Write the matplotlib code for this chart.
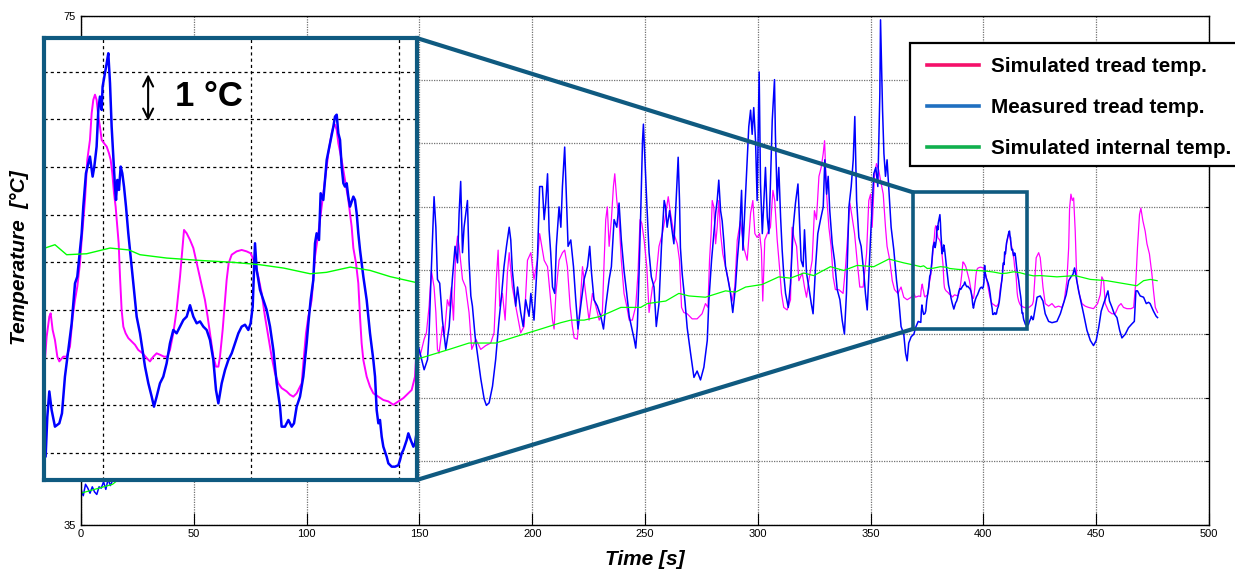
import matplotlib.pyplot as plt
from matplotlib.patches import Rectangle, ConnectionPatch
from matplotlib.lines import Line2D

plt.rcParams['font.family'] = ['Liberation Sans', 'DejaVu Sans']

# measured tread temperature (blue)
t_meas = [0, 1, 2, 3, 4, 5, 6, 7, 8, 9, 10, 11, 12, 13, 14,
          20, 30, 40, 50, 60, 70, 80, 90, 100, 110, 120, 130, 140, 146,
          148.4, 149.9, 152.1, 153.6, 154.3, 155.0, 155.8, 156.5, 157.3, 158.0,
          159.0, 160.2, 161.7, 163.2, 164.6, 165.8, 166.9, 167.6, 168.3, 169.1,
          169.8, 171.3, 172.0, 172.8, 173.5, 174.7, 175.7, 177.2, 178.7, 179.7,
          180.9, 182.4, 183.8, 185.3, 186.5, 187.5, 188.6, 189.8, 190.5, 191.2,
          192.7, 193.5, 194.9, 196.0, 197.1, 198.6, 199.4, 200.8, 202.3, 203.3,
          204.5, 205.3, 206.0, 206.8, 207.5, 208.2, 209.0, 210.0, 210.7, 211.9,
          212.7, 213.4, 214.4, 215.3, 215.9, 217.1, 218.3, 219.3, 220.3, 221.5,
          223.0, 224.5, 225.5, 226.3, 227.4, 228.9, 230.4, 231.6, 232.6, 234.1,
          235.1, 236.3, 237.5, 238.5, 239.5, 240.7, 241.9, 243.0, 244.0, 245.2,
          245.9, 246.6, 247.4, 248.1, 248.9, 249.3, 250.0, 250.8, 251.8, 252.8,
          254.0, 255.0, 256.2, 257.3, 258.5, 259.1, 259.8, 260.9, 261.8, 262.8,
          263.8, 264.7, 265.3, 265.7, 266.5, 267.7, 268.7, 270.2, 271.7, 273.1,
          274.6, 276.1, 277.6, 278.3, 279.5, 280.5, 281.3, 282.0, 282.7, 283.5,
          284.2, 284.9, 285.7, 286.9, 287.9, 288.9, 290.1, 290.9, 291.9, 292.8,
          293.4, 294.3, 295.3, 296.0, 296.8, 297.5, 298.2, 299.0, 299.7, 300.6,
          301.2, 302.0, 302.7, 303.4, 304.2, 304.9, 305.6, 306.4, 307.4, 307.8,
          308.6, 309.3, 310.1, 310.8, 311.5, 312.3, 313.5, 314.5, 315.7, 316.7,
          317.8, 318.6, 319.2, 320.1, 320.7, 321.6, 322.6, 323.7, 324.5, 325.6,
          326.6, 327.8, 329.0, 329.7, 330.5, 331.2, 331.9, 333.0, 334.0, 335.2,
          336.4, 337.4, 338.4, 339.3, 340.4, 341.4, 342.3, 343.0, 343.8, 344.8,
          345.8, 347.0, 347.7, 348.5, 349.4, 350.2, 351.4, 352.3, 353.2, 354.1,
          354.4, 355.3, 355.9, 356.6, 357.3, 358.2, 359.1, 360.3, 361.5, 362.5,
          363.5, 364.7, 365.5, 366.2, 366.9, 368.0, 369.2, 369.9, 371.1,
          372.25, 372.48, 372.75, 373.06, 373.51, 374.10, 374.46, 374.86, 375.32, 375.77,
          376.22, 376.53, 376.89, 377.12, 377.34, 377.70, 378.02, 378.24, 378.60, 378.83,
          379.14, 379.37, 379.59, 379.82, 379.95, 380.27, 380.50, 380.72, 380.95, 381.17,
          381.40, 381.62, 381.76, 381.94, 382.16, 382.39, 382.61, 382.84, 383.11, 383.42,
          383.65, 384.10, 384.55, 385.00, 385.68, 386.13, 386.58, 386.89, 387.25, 387.70,
          388.15, 388.60, 389.05, 389.50, 389.95, 390.41, 390.86, 391.31, 391.76, 392.21,
          392.66, 393.11, 393.56, 394.01, 394.46, 394.91, 395.27, 395.59, 396.04, 396.49,
          396.94, 397.39, 397.84, 398.29, 398.74, 399.19, 399.64, 399.95, 400.23, 400.54,
          400.77, 401.22, 401.67, 402.12, 402.57, 403.02, 403.47, 403.92, 404.14, 404.59,
          405.05, 405.50, 405.81, 406.17, 406.62, 407.07, 407.52, 407.75, 408.06, 408.42,
          408.65, 408.87, 409.19, 409.41, 409.77, 410.23, 410.68, 411.13, 411.35, 411.58,
          411.80, 412.03, 412.25, 412.48, 412.70, 412.93, 413.15, 413.38, 413.83, 414.05,
          414.28, 414.50, 414.73, 415.18, 415.63, 416.08, 416.53, 416.76, 416.98, 417.21,
          417.43, 417.66, 417.88, 418.33, 418.56, 419.01, 419.46, 419.91, 420.14, 420.36,
          420.59, 421.04, 421.26, 421.58, 421.94, 422.16,
          423.8, 425.2, 426.4, 427.4, 428.9, 430.4, 432.6, 434.1,
          435.5, 436.7, 437.8, 438.8, 439.7, 440.4, 441.4, 442.2, 443.2, 444.4,
          445.9, 447.4, 448.8, 450.0, 451.1, 452.2, 453.3, 454.3, 455.2, 455.9,
          457.0, 458.0, 459.2, 460.4, 461.4, 462.9, 464.3, 465.8, 466.9, 467.6,
          468.3, 469.5, 471.0, 472.2, 473.2, 473.9, 475.4, 476.6, 477.2]
T_meas = [37.8, 37.3, 38.2, 37.9, 37.5, 38.0, 37.6, 37.4, 38.0, 37.9, 38.4, 37.8, 38.6, 38.1, 38.5,
          41.0, 46.0, 44.0, 48.0, 45.0, 50.0, 47.0, 52.0, 48.0, 53.0, 49.0, 52.0, 50.0, 51.0,
          49.6, 48.8, 47.2, 48.0, 50.1, 53.7, 57.4, 60.8, 58.4, 54.3,
          54.0, 51.1, 48.8, 50.6, 54.3, 56.9, 55.6, 59.5, 62.0, 56.4,
          58.4, 60.5, 55.8, 53.0, 52.2, 49.8, 48.5, 46.5, 44.9, 44.4,
          44.6, 45.9, 48.0, 51.1, 53.2, 55.3, 56.9, 58.4, 57.4, 55.0,
          52.2, 53.7, 51.7, 50.6, 52.7, 51.4, 53.2, 51.1, 55.8, 61.6,
          61.6, 59.0, 60.3, 62.6, 58.2, 56.4, 53.7, 53.2, 56.9, 60.0,
          58.4, 61.6, 64.7, 60.0, 56.9, 57.4, 55.3, 52.7, 50.4, 52.2,
          54.3, 55.3, 56.9, 54.8, 52.7, 52.2, 51.4, 50.4, 52.2, 54.3,
          55.3, 59.0, 58.4, 60.3, 57.4, 55.0, 53.2, 51.4, 50.6, 49.6,
          48.9, 50.6, 55.0, 59.5, 65.2, 66.5, 63.6, 60.3, 56.4, 54.5,
          53.7, 50.6, 52.4, 56.9, 60.5, 60.0, 58.4, 59.7, 58.4, 57.1,
          60.5, 63.9, 60.5, 56.8, 54.7, 52.6, 50.5, 48.5, 46.6, 47.1,
          46.4, 47.4, 49.5, 52.6, 55.8, 57.9, 59.5, 60.5, 62.1, 59.7,
          58.9, 57.4, 55.3, 54.2, 53.2, 51.7, 53.7, 55.8, 57.9, 61.3,
          56.6, 60.0, 63.6, 66.3, 67.6, 65.7, 67.8, 65.2, 60.5, 70.6,
          61.8, 57.9, 60.5, 63.1, 59.2, 57.9, 61.8, 66.8, 70.0, 65.7,
          60.5, 63.1, 59.2, 56.6, 54.7, 53.2, 52.1, 54.0, 58.4, 60.3,
          61.8, 58.4, 55.8, 55.3, 58.2, 54.8, 53.7, 52.4, 51.6, 55.3,
          57.9, 59.0, 60.0, 63.7, 61.0, 62.4, 59.7, 57.1, 55.8, 53.5,
          52.7, 51.1, 50.0, 53.2, 60.0, 61.6, 63.7, 67.1, 60.5, 57.6,
          56.9, 54.8, 53.2, 51.9, 55.3, 58.4, 62.6, 63.1, 61.6, 68.9,
          74.7, 67.6, 64.2, 62.4, 63.7, 61.0, 58.4, 56.6, 54.2, 52.7,
          50.6, 50.0, 48.5, 47.9, 49.3, 49.8, 50.0, 50.5, 51.0,
          50.92, 51.76, 52.29, 51.90, 51.55, 51.62, 51.83, 52.60, 53.16, 53.72,
          54.56, 54.70, 55.26, 55.61, 56.17, 56.87, 57.08, 57.22, 56.80, 57.01,
          57.43, 58.20, 58.48, 58.20, 58.69, 58.97, 59.18, 59.39, 58.76, 57.85,
          57.22, 56.59, 56.31, 56.73, 56.52, 57.01, 56.87, 56.59, 56.17, 55.61,
          55.26, 54.56, 53.86, 53.51, 52.81, 52.46, 52.18, 51.97, 52.18, 52.46,
          52.60, 52.88, 53.30, 53.58, 53.51, 53.65, 53.79, 53.86, 54.10, 53.86,
          53.72, 53.76, 53.65, 53.58, 53.37, 52.95, 52.32, 52.04, 52.46, 52.74,
          52.95, 53.09, 53.30, 53.51, 53.65, 53.69, 53.58, 53.72, 54.07, 55.40,
          54.84, 54.42, 54.21, 54.00, 53.65, 53.16, 52.46, 51.97, 51.55, 51.55,
          51.69, 51.55, 51.62, 51.97, 52.18, 52.60, 53.30, 53.72, 54.21, 54.63,
          55.40, 55.61, 55.47, 56.45, 56.31, 57.15, 57.50, 57.85, 58.06, 58.10,
          57.71, 57.57, 57.01, 56.66, 56.59, 56.66, 56.38, 56.17, 56.38, 56.31,
          56.03, 55.61, 55.26, 54.70, 54.21, 53.51, 52.95, 52.60, 51.90, 51.62,
          51.69, 51.34, 51.13, 50.92, 50.78, 50.71, 50.71, 50.74, 50.85, 50.99,
          51.06, 51.27, 51.41, 51.27, 51.13, 51.20,
          52.9, 53.0, 52.6, 51.6, 51.0, 50.9, 51.0, 51.6,
          52.4, 53.1, 54.2, 54.5, 54.7, 55.2, 54.2, 53.4, 52.6, 51.6,
          50.3, 49.5, 49.1, 49.5, 50.5, 51.8, 52.4, 52.9, 53.4, 52.6,
          52.1, 51.6, 51.3, 50.3, 49.7, 50.0, 50.5, 50.8, 51.0, 53.4,
          53.4, 53.0, 52.9, 52.4, 52.5, 52.4, 51.8, 51.4, 51.3]

# simulated tread temperature (magenta)
t_tread = [0, 20, 40, 60, 80, 100, 120, 140,
           148.4, 150.6, 152.1, 153.1, 154.3, 155.3, 156.5, 157.3, 158.0, 158.7,
           160.2, 161.0, 162.4, 163.2, 164.2, 165.1, 166.1, 166.9, 167.6, 169.1,
           170.5, 172.0, 173.2, 175.0, 177.2, 179.4, 181.6, 183.1, 184.1, 184.9,
           185.6, 186.8, 188.0, 189.0, 189.8, 191.2, 192.7, 194.9, 196.4, 197.9,
           199.4, 200.8, 202.3, 203.3, 205.3, 206.8, 207.9, 209.0, 209.7, 210.5,
           211.9, 213.4, 214.4, 215.6, 216.8, 217.8, 218.6, 220.0, 221.2, 222.3,
           223.7, 225.2, 226.7, 228.2, 229.7, 231.1, 231.9, 232.6, 233.3, 234.1,
           235.1, 236.0, 236.6, 237.5, 238.5, 239.5, 240.7, 241.9, 243.0, 244.4,
           245.9, 246.9, 247.8, 248.6, 249.6, 250.8, 251.8, 253.3, 254.8, 256.2,
           257.7, 258.8, 260.3, 261.3, 262.8, 264.3, 265.3, 266.2, 267.2, 268.7,
           270.9, 273.1, 275.3, 276.8, 277.9, 278.6, 279.3, 279.8, 280.5, 281.3,
           282.0, 282.7, 283.5, 284.5, 285.7, 287.2, 288.6, 289.8, 290.9, 292.3,
           293.8, 295.3, 296.8, 297.8, 298.7, 299.7, 300.8, 301.6, 302.2, 303.1,
           304.2, 305.6, 306.7, 307.5, 308.6, 309.6, 310.5, 311.5, 313.0, 314.5,
           315.2, 316.0, 317.2, 318.2, 319.7, 320.7, 321.6, 322.6, 324.1, 325.1,
           326.0, 327.1, 328.1, 329.0, 329.6, 330.5, 331.5, 332.5, 333.4, 334.4,
           335.9, 337.8, 338.9, 339.9, 340.8, 341.8, 342.9, 344.0, 345.2, 346.7,
           348.2, 349.2, 350.0, 350.7, 351.7, 352.6, 353.6, 354.4, 355.6, 356.6,
           357.3, 358.5, 359.6, 360.6, 362.1, 363.5, 364.7, 366.2, 368.0, 369.2,
           369.9, 371.4,
           372.16, 372.39, 372.75, 372.93, 373.20, 373.51, 373.83, 374.10, 374.64, 375.09,
           375.54, 375.90, 376.22, 376.53, 376.89, 377.12, 377.57, 377.88, 378.24, 378.47,
           378.69, 378.92, 379.14, 379.37, 379.59, 379.82, 380.14, 380.50, 380.81, 381.04,
           381.26, 381.49, 381.71, 381.94, 382.12, 382.30, 382.52, 382.75, 383.06, 383.42,
           383.87, 384.32, 384.77, 385.36, 385.90, 386.35, 386.80, 387.25, 387.70, 388.24,
           388.69, 389.05, 389.50, 389.95, 390.41, 390.68, 390.95, 391.31, 391.76, 392.21,
           392.57, 392.97, 393.38, 393.78, 394.14, 394.46, 394.91, 395.27, 395.59, 395.81,
           396.17, 396.49, 396.71, 396.98, 397.39, 398.06, 398.74, 399.41, 399.95, 400.54,
           400.99, 401.44, 401.89, 402.34, 402.79, 403.24, 403.69, 404.14, 404.82, 405.27,
           405.72, 406.17, 406.62, 406.85, 407.07, 407.43, 407.75, 408.20, 408.65, 409.10,
           409.55, 410.00, 410.45, 410.90, 411.13, 411.35, 411.58, 411.80, 412.25, 412.70,
           413.15, 413.60, 413.83, 414.19, 414.50, 414.73, 414.95, 415.18, 415.63, 416.08,
           416.53, 417.21, 417.88, 418.56, 419.23, 419.91, 420.59, 421.26, 421.71, 422.16,
           423.4, 424.5, 425.2, 426.4, 427.4, 428.9, 430.4, 431.8, 433.3, 434.8, 435.8,
           437.0, 437.8, 438.2, 438.8, 439.4, 440.0, 440.7, 441.4, 442.6, 443.7,
           445.1, 446.6, 448.8, 450.6, 451.8, 452.5, 453.3, 454.0, 455.5, 457.0,
           458.4, 459.9, 461.0, 462.1, 463.6, 465.4, 466.6, 467.6, 468.3, 469.2,
           469.8, 470.7, 471.7, 472.5, 473.6, 474.7, 475.4, 476.2, 477.2]
T_tread = [45.0, 52.0, 47.0, 55.0, 49.0, 56.0, 50.0, 52.0,
           48.5, 48.5, 49.6, 50.1, 52.2, 55.0, 53.7, 51.7, 48.8, 48.5,
           50.6, 49.8, 52.7, 52.2, 53.7, 51.1, 56.4, 57.7, 56.9, 54.3,
           53.7, 51.7, 48.8, 49.6, 48.8, 49.1, 49.3, 50.1, 54.3, 56.6,
           52.2, 53.2, 51.1, 54.8, 56.4, 53.7, 52.2, 50.1, 50.6, 55.8,
           56.4, 54.3, 55.8, 57.9, 55.8, 55.3, 53.2, 51.1, 50.4, 53.2,
           55.8, 56.4, 56.6, 55.3, 52.2, 50.6, 49.7, 49.6, 52.2, 55.3,
           53.2, 51.1, 53.2, 52.2, 51.1, 51.7, 55.8, 59.0, 60.0, 56.9,
           59.0, 61.6, 62.6, 60.5, 59.0, 55.8, 53.2, 52.2, 51.1, 51.1,
           52.2, 54.8, 59.0, 58.7, 57.4, 55.3, 51.7, 53.7, 54.3, 56.9,
           57.9, 59.0, 60.8, 59.5, 57.9, 57.1, 55.8, 52.1, 51.7, 51.6,
           51.2, 51.2, 51.6, 52.4, 52.1, 55.8, 57.9, 60.5, 60.0, 57.1,
           58.4, 60.5, 57.9, 56.3, 55.3, 54.0, 52.6, 53.7, 57.4, 58.9,
           56.8, 55.8, 59.5, 60.5, 57.9, 57.6, 57.9, 56.6, 52.6, 57.4,
           57.9, 58.4, 61.3, 60.5, 57.4, 55.3, 53.2, 52.1, 51.9, 52.7,
           58.4, 57.6, 56.9, 54.2, 54.8, 53.7, 52.9, 54.2, 55.8, 59.7,
           59.0, 62.4, 63.1, 64.2, 65.2, 61.0, 58.4, 56.9, 54.5, 53.5,
           53.5, 53.2, 55.3, 57.9, 60.3, 59.2, 57.9, 55.8, 53.7, 53.7,
           56.3, 60.5, 61.0, 58.4, 62.4, 63.4, 62.9, 62.1, 61.0, 58.4,
           56.9, 55.8, 54.2, 53.5, 53.2, 53.7, 52.9, 52.7, 52.9, 53.2,
           52.9, 53.0,
           52.95, 53.44, 53.86, 53.93, 53.58, 53.37, 53.02, 52.92, 53.02, 53.02,
           53.23, 53.86, 54.21, 54.49, 54.98, 55.47, 56.31, 57.15, 57.57, 58.13,
           58.41, 58.52, 58.41, 58.06, 57.85, 57.57, 57.50, 57.43, 57.29, 57.15,
           56.87, 56.45, 56.17, 55.75, 55.40, 54.70, 54.00, 53.65, 53.51, 53.41,
           53.34, 53.27, 53.16, 53.09, 52.99, 52.92, 53.02, 53.09, 53.06, 53.02,
           53.02, 53.16, 53.51, 54.00, 54.70, 55.19, 55.68, 55.61, 55.47, 55.30,
           55.05, 54.77, 54.49, 54.21, 53.86, 53.51, 53.02, 52.81, 52.81, 53.02,
           53.58, 54.21, 54.63, 54.98, 55.16, 55.23, 55.26, 55.23, 55.19, 54.98,
           54.70, 54.35, 53.86, 53.44, 53.02, 52.67, 52.46, 52.36, 52.29, 52.22,
           52.18, 52.25, 52.39, 52.46, 52.88, 53.51, 53.86, 54.21, 55.12, 55.61,
           56.17, 56.73, 57.29, 57.71, 57.85, 57.89, 57.78, 57.50, 57.15, 56.73,
           56.31, 55.75, 55.30, 54.98, 54.56, 53.86, 53.30, 52.95, 52.60, 52.39,
           52.25, 52.18, 52.11, 52.08, 52.01, 52.08, 52.15, 52.25, 52.32, 52.60,
           56.0, 56.4, 56.0, 53.7, 52.4, 52.2, 52.4, 52.1, 52.2, 52.1, 52.6,
           54.2, 56.8, 59.9, 61.0, 60.5, 60.7, 58.1, 54.2, 53.1, 52.4,
           52.2, 52.1, 52.0, 52.4, 53.1, 54.5, 54.2, 52.4, 51.8, 51.6,
           51.6, 52.2, 52.4, 52.1, 52.0, 52.0, 52.1, 54.2, 56.8, 59.4,
           59.9, 58.9, 58.1, 57.1, 56.3, 54.7, 53.4, 52.1, 51.7]

# simulated internal temperature (green)
t_int = [0, 14, 30, 60, 90, 120, 148.4, 155.8, 163.2, 172.0, 183.8, 192.7,
         203.8, 212.7, 217.1, 223.0, 230.4, 239.3, 248.1, 251.0, 259.2, 265.0,
         269.5, 276.8, 285.7, 290.1, 294.6, 301.9, 309.3, 314.5, 320.4, 324.8,
         332.2, 338.1, 344.0, 351.4, 358.1, 364.7, 369.9,
         372.16, 373.51, 375.09, 377.79, 380.95, 383.5, 385.0, 388.6, 393.1, 397.6,
         401.2, 404.4, 408.0, 410.2, 413.4, 416.1, 418.8, 422.2,
         425.3, 432.6, 440.7, 447.4, 454.7, 468.0, 471.0, 474.0, 477.0]
T_int = [37.5, 38.2, 40.5, 43.0, 45.0, 46.5, 48.0, 48.4, 48.8, 49.3, 49.3, 49.8,
         50.4, 50.9, 51.1, 51.1, 51.4, 52.1, 52.1, 52.4, 52.6, 53.2,
         53.0, 52.9, 53.4, 53.3, 53.7, 53.9, 54.5, 54.4, 54.8, 54.6,
         55.3, 55.0, 55.4, 55.3, 55.9, 55.6, 55.4,
         55.30, 55.37, 55.16, 55.18, 55.30, 55.26, 55.16, 55.09, 55.04, 55.00,
         54.95, 54.88, 54.76, 54.79, 54.90, 54.83, 54.70, 54.58,
         54.6, 54.5, 54.6, 54.3, 54.2, 53.8, 54.2, 54.3, 54.2]

labels = ['Simulated tread temp.', 'Measured tread temp.', 'Simulated internal temp.']
legend_colors = ['#f5106a', '#1f6fc0', '#10b04e']
frame_col = '#0f5a80'

fig = plt.figure(figsize=(12.35, 5.69), dpi=100)
ax = fig.add_axes([81/1235, 1 - 525/569, 1128/1235, 509/569])
ax.set_zorder(1)

ax.plot(t_tread, T_tread, color='#ff00ff', lw=0.9)
ax.plot(t_meas, T_meas, color='#0000ff', lw=1.1)
ax.plot(t_int, T_int, color='#00ff00', lw=0.9)

ax.set_xlim(0, 500)
ax.set_ylim(35, 75)
ax.set_xticks(range(0, 501, 50))
ax.set_yticks(range(35, 76, 5))
ax.set_yticklabels(['35', '', '', '', '', '', '', '', '75'])
ax.tick_params(axis='x', direction='in', length=9, top=False, labelsize=8, pad=3)
ax.tick_params(axis='y', direction='in', length=3, right=True, labelsize=8, pad=4)
ax.grid(True, color='0.45', linestyle=(0, (1, 1)), linewidth=0.9)
for s in ax.spines.values():
    s.set_linewidth(1.0)

ax.set_xlabel('Time [s]', fontsize=15, fontweight='bold', fontstyle='italic', labelpad=8)
ax.set_ylabel('Temperature  [°C]', fontsize=15, fontweight='bold', fontstyle='italic')
ax.yaxis.set_label_coords(-0.046, 0.525)

# zoom box on main axes
ax.add_patch(Rectangle((368.7, 50.4), 50.8, 10.75, fill=False,
                       edgecolor=frame_col, lw=2.6, zorder=5))

# inset
ins = fig.add_axes([43.7/1235, 1 - 480/569, 373/1235, 442/569])
ins.set_zorder(3)
ins.set_facecolor('white')
ins.plot(t_tread, T_tread, color='#ff00ff', lw=1.4)
ins.plot(t_meas, T_meas, color='#0000ff', lw=1.8)
ins.plot(t_int, T_int, color='#00ff00', lw=1.0)
ins.set_xlim(371.99, 422.39)
ins.set_ylim(50.43, 59.71)
ins.set_xticks([380, 400, 420])
ins.set_yticks(range(51, 60))
ins.tick_params(length=0, labelbottom=False, labelleft=False)
ins.grid(True, color='black', linestyle=(0, (2.5, 2.5)), linewidth=0.9)
for s in ins.spines.values():
    s.set_edgecolor(frame_col)
    s.set_linewidth(3.0)

ins.annotate('', xy=(386.1, 57.97), xytext=(386.1, 58.95),
             arrowprops=dict(arrowstyle='<->', color='black', lw=1.5,
                             mutation_scale=18, shrinkA=0, shrinkB=0))
ins.text(389.7, 58.48, '1 °C', fontsize=25, fontweight='bold', va='center', ha='left')

# connector lines
for corner, target in [((1, 1), (368.7, 61.15)), ((1, 0), (368.7, 50.4))]:
    con = ConnectionPatch(xyA=corner, coordsA=ins.transAxes, xyB=target,
                          coordsB=ax.transData, color=frame_col, lw=3.0)
    con.set_zorder(2)
    fig.add_artist(con)

# legend box (runs past the right edge, as in the original)
box = Rectangle((910/1235, 1 - 166/569), 340/1235, 123/569, transform=fig.transFigure,
                facecolor='white', edgecolor='black', lw=1.6, zorder=9)
fig.add_artist(box)
handles = [Line2D([], [], color=c, lw=2.6) for c in legend_colors]
leg = fig.legend(handles, labels, loc='upper left', bbox_to_anchor=(927/1235, 1 - 57/569),
                 prop={'weight': 'bold', 'size': 14.9}, handlelength=2.5, handletextpad=0.58,
                 borderpad=0, labelspacing=1.07, borderaxespad=0, frameon=False)
leg.set_zorder(10)

fig.savefig('out.png', dpi=100, facecolor='white')
